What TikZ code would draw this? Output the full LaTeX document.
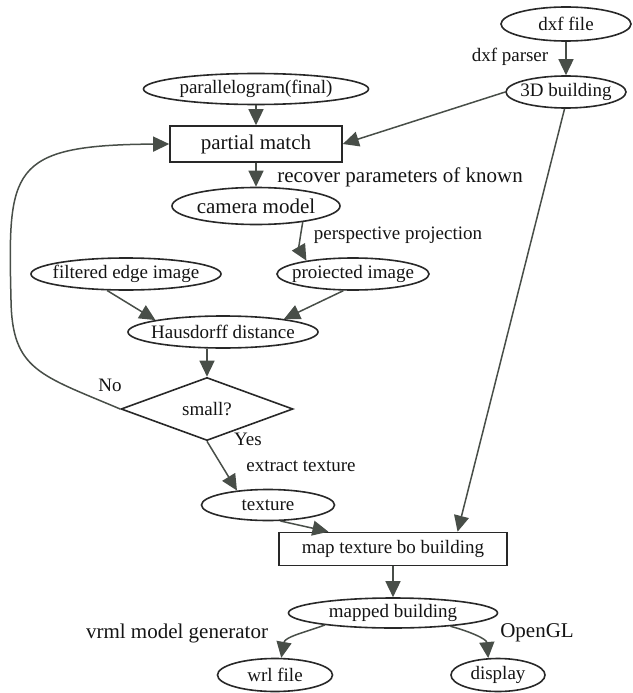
\documentclass[tikz,border=0pt]{standalone}
\usepackage{fontspec}
\setmainfont{Liberation Serif}
\usetikzlibrary{shapes.geometric,arrows.meta}
\definecolor{linegray}{RGB}{72,78,72}
\definecolor{edgeblack}{RGB}{40,40,40}

\begin{document}
\begin{tikzpicture}[x=1pt,y=1pt,
  ell/.style={draw=edgeblack,line width=1.6pt,ellipse,inner xsep=-10pt,inner ysep=0pt,minimum height=32pt,text=black!92,font=\fontsize{19}{22}\selectfont},
  box/.style={draw=edgeblack,line width=1.6pt,rectangle,inner sep=0pt,text=black!92,font=\fontsize{19}{22}\selectfont},
  lbl/.style={text=black!92,inner sep=0pt,font=\fontsize{19}{22}\selectfont},
  big/.style={font=\fontsize{21}{24}\selectfont},
  flow/.style={draw=linegray,line width=1.5pt,-{Triangle[length=16pt,width=15pt]}}]
\useasboundingbox (0,0) rectangle (632,-693);
\node[ell,minimum width=130pt,minimum height=34pt] (dxf) at (566,-24) {dxf file};
\node[ell,minimum width=120pt] (bldg) at (566,-92) {3D building};
\node[ell,minimum width=225pt,minimum height=31pt] (par) at (256,-89) {parallelogram(final)};
\node[box,big,minimum width=172pt,minimum height=36pt] (pm) at (256,-144) {partial match};
\node[ell,big,minimum width=168pt,minimum height=37pt] (cam) at (256,-206) {camera model};
\node[ell,minimum width=152pt] (proj) at (353,-274) {proiected image};
\node[ell,minimum width=190pt] (filt) at (126,-274) {filtered edge image};
\node[ell,minimum width=190pt] (haus) at (223,-332) {Hausdorff distance};
\node[lbl,draw=edgeblack,line width=1.6pt,diamond,minimum width=172pt,minimum height=49pt] (small) at (207,-409) {small?};
\node[ell,minimum width=133pt,minimum height=31pt] (tex) at (268,-505) {texture};
\node[box,minimum width=228pt,minimum height=33pt] (mtb) at (393,-549) {map texture bo building};
\node[ell,minimum width=209pt,minimum height=30pt] (mapd) at (393,-613) {mapped building};
\node[ell,minimum width=115pt,minimum height=33pt] (wrl) at (275,-675) {wrl file};
\node[ell,minimum width=94pt,minimum height=33pt] (disp) at (498,-675) {display};
\node[lbl] (parser) at (510,-57) {dxf parser};
\node[lbl,big] (recover) at (400,-177) {recover parameters of known};
\node[lbl] (persp) at (398,-235) {perspective projection};
\node[lbl] (no) at (110,-385) {No};
\node[lbl] (yes) at (248,-439) {Yes};
\node[lbl] (extract) at (301,-466) {extract texture};
\node[lbl,big] (vrml) at (177,-633) {vrml model generator};
\node[lbl,big] (opengl) at (537,-633) {OpenGL};
\draw[flow] (dxf) -- (bldg);
\draw[flow] (bldg.west) -- (pm.east);
\draw[flow] (bldg.-95) -- (mtb.15);
\draw[flow] (par) -- (pm);
\draw[flow] (pm) -- (cam);
\draw[flow] (cam.-19) to[out=-100,in=120] (proj.164);
\draw[flow] (filt.-139) -- (haus.170);
\draw[flow] (proj.-120) -- (haus.12);
\draw[flow] (small.north |- haus.south) -- (small.north);
\draw[flow] (small.west) .. controls (40,-375) and (12,-370) .. (11,-300) .. controls (8,-170) and (8,-145) .. (pm.west);
\draw[flow] (small.south) -- (tex.155);
\draw[flow] (tex.-52) -- (mtb.165);
\draw[flow] (mtb) -- (mapd);
\draw[flow] (mapd.190) to[out=200,in=80] (wrl.70);
\draw[flow] (mapd.-13) to[out=-15,in=95] (disp.120);
\end{tikzpicture}
\end{document}
